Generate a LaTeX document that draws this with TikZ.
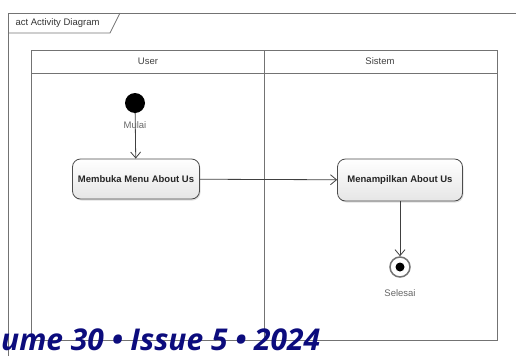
\documentclass[tikz,border=0pt]{standalone}
\usepackage{fontspec}
\setmainfont{Liberation Sans}
\newfontfamily\volfont{Open Sans}
\usetikzlibrary{arrows.meta,shadows}
\definecolor{navyjurnal}{RGB}{12,12,125}

\begin{document}
\begin{tikzpicture}[x=1pt,y=-1pt,>={Straight Barb[length=6pt,width=10pt]},
    lane/.style={draw=black!55,line width=0.8pt},
    aksi/.style={draw=black!70,line width=0.8pt,rounded corners=8pt,
        minimum width=127pt,minimum height=40pt,top color=white,bottom color=black!10,
        drop shadow={opacity=0.25,shadow xshift=1pt,shadow yshift=-1.5pt},
        font=\fontsize{9.5}{11}\selectfont\bfseries,text=black!85},
    ket/.style={font=\fontsize{9.5}{11}\selectfont,text=black!60},
    alur/.style={->,draw=black!75,line width=0.8pt}]
    \useasboundingbox (0,0) rectangle (516,356);
    \draw[lane] (8,356) -- (8,13) -- (516,13);
    \draw[lane] (8,33) -- (110,33) -- (120,13);
    \node[ket,text=black!80,anchor=west] (judul) at (12,23) {act Activity Diagram};
    \draw[lane] (31,340) rectangle (497,50);
    \draw[lane] (31,73) -- (497,73);
    \draw[lane] (264,50) -- (264,340);
    \node[ket,text=black!75] (user) at (148,61) {User};
    \node[ket,text=black!75] (sistem) at (380,61) {Sistem};
    \node[circle,fill=black,minimum size=20pt,inner sep=0pt] (mulai) at (135,103) {};
    \node[aksi] (buka) at (136,179) {Membuka Menu About Us};
    \node[aksi,minimum width=125pt,minimum height=42pt] (tampil) at (400,180) {Menampilkan About Us};
    \node[circle,draw=black!55,line width=1.5pt,minimum size=20pt,inner sep=0pt] (selesai) at (400,267) {};
    \node[circle,fill=black,minimum size=9pt,inner sep=0pt] (titik) at (selesai) {};
    \draw[alur] (mulai) -- (buka);
    \draw[alur] (buka) -- (tampil);
    \draw[alur] (tampil) -- (selesai);
    \node[ket] (lblmulai) at (135,125) {Mulai};
    \node[ket] (lblselesai) at (400,293) {Selesai};
    \node[anchor=base west,inner sep=0pt,font=\volfont\fontsize{30}{33}\selectfont\bfseries\itshape,
        text=navyjurnal] (volume) at (1,350) {ume 30 • Issue 5 • 2024};
\end{tikzpicture}
\end{document}
